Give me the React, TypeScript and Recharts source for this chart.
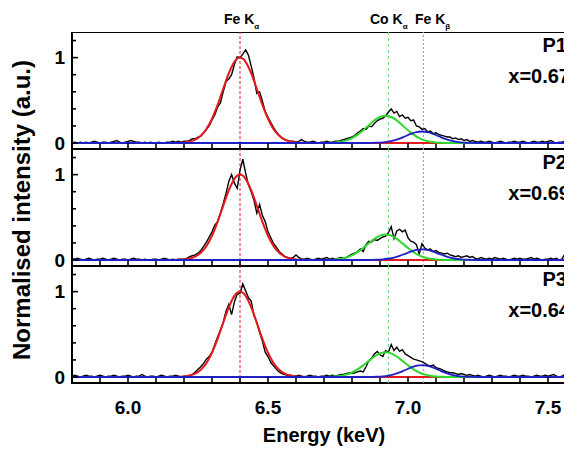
import { LineChart, Line, XAxis, YAxis, ReferenceLine, ReferenceArea } from 'recharts';

const FONT = '"Liberation Sans", Arial, Helvetica, sans-serif';

// measured spectra, one value per 0.01 keV channel from 5.80 to 7.60 keV
const E_START = 5.8;
const E_STEP = 0.01;

const p1Counts = [
  0.00, 0.01, 0.00, 0.01, 0.00, 0.01, 0.00, 0.01, 0.02, 0.01,
  0.00, 0.01, 0.01, 0.00, 0.01, 0.02, 0.03, 0.01, 0.00, 0.01,
  0.02, 0.03, 0.02, 0.01, 0.01, 0.00, 0.01, 0.00, 0.01, 0.00,
  0.00, 0.01, 0.00, 0.00, 0.01, 0.01, 0.02, 0.01, 0.02, 0.01,
  0.02, 0.02, 0.03, 0.05, 0.05, 0.07, 0.08, 0.12, 0.16, 0.20,
  0.27, 0.33, 0.42, 0.47, 0.60, 0.72, 0.75, 0.80, 0.92, 1.01,
  1.00, 1.04, 1.09, 1.03, 0.90, 0.76, 0.58, 0.60, 0.49, 0.37,
  0.30, 0.24, 0.18, 0.13, 0.09, 0.06, 0.04, 0.03, 0.02, 0.02,
  0.01, 0.02, 0.04, 0.02, 0.01, 0.01, 0.02, 0.01, 0.00, 0.01,
  0.01, 0.02, 0.01, 0.01, 0.02, 0.02, 0.03, 0.04, 0.05, 0.06,
  0.07, 0.09, 0.12, 0.14, 0.17, 0.16, 0.20, 0.19, 0.23, 0.26,
  0.28, 0.29, 0.32, 0.36, 0.40, 0.35, 0.37, 0.31, 0.33, 0.29,
  0.30, 0.26, 0.27, 0.20, 0.19, 0.16, 0.17, 0.13, 0.14, 0.11,
  0.12, 0.10, 0.09, 0.08, 0.07, 0.07, 0.05, 0.06, 0.04, 0.05,
  0.03, 0.04, 0.02, 0.03, 0.02, 0.01, 0.02, 0.01, 0.01, 0.02,
  0.01, 0.00, 0.01, 0.02, 0.01, 0.00, 0.01, 0.01, 0.02, 0.01,
  0.01, 0.02, 0.01, 0.00, 0.01, 0.02, 0.01, 0.01, 0.02, 0.01,
  0.02, 0.03, 0.01, 0.00, 0.01, 0.01, 0.02, 0.01, 0.00, 0.01,
  0.01,
];

const p2Counts = [
  0.02, 0.01, 0.02, 0.01, 0.00, 0.01, 0.02, 0.01, 0.00, 0.01,
  0.01, 0.02, 0.01, 0.00, 0.01, 0.02, 0.01, 0.00, 0.01, 0.01,
  0.00, 0.01, 0.02, 0.01, 0.01, 0.00, 0.01, 0.00, 0.00, 0.01,
  0.01, 0.00, 0.01, 0.02, 0.01, 0.00, 0.01, 0.00, 0.01, 0.01,
  0.01, 0.02, 0.04, 0.05, 0.06, 0.08, 0.11, 0.16, 0.21, 0.27,
  0.33, 0.41, 0.45, 0.55, 0.66, 0.78, 0.92, 1.00, 0.90, 0.84,
  1.05, 1.18, 1.02, 0.88, 0.80, 0.70, 0.55, 0.65, 0.52, 0.45,
  0.33, 0.26, 0.19, 0.15, 0.10, 0.07, 0.04, 0.03, 0.02, 0.03,
  0.06, 0.03, 0.01, 0.01, 0.02, 0.01, 0.00, 0.01, 0.02, 0.01,
  0.02, 0.03, 0.01, 0.02, 0.01, 0.02, 0.03, 0.02, 0.03, 0.05,
  0.07, 0.08, 0.10, 0.13, 0.10, 0.18, 0.22, 0.21, 0.24, 0.23,
  0.25, 0.27, 0.28, 0.32, 0.39, 0.25, 0.34, 0.36, 0.33, 0.35,
  0.26, 0.22, 0.21, 0.18, 0.07, 0.19, 0.14, 0.12, 0.13, 0.10,
  0.11, 0.09, 0.08, 0.07, 0.08, 0.06, 0.05, 0.04, 0.05, 0.03,
  0.04, 0.05, 0.03, 0.04, 0.02, 0.01, 0.03, 0.02, 0.01, 0.02,
  0.01, 0.03, 0.02, 0.01, 0.02, 0.01, 0.00, 0.01, 0.02, 0.01,
  0.02, 0.01, 0.01, 0.02, 0.03, 0.01, 0.02, 0.01, 0.00, 0.01,
  0.01, 0.02, 0.01, 0.02, 0.00, 0.01, 0.07, 0.02, 0.01, 0.01,
  0.01,
];

const p3Counts = [
  0.01, 0.02, 0.01, 0.00, 0.01, 0.02, 0.01, 0.01, 0.00, 0.01,
  0.02, 0.01, 0.00, 0.01, 0.01, 0.02, 0.01, 0.00, 0.01, 0.01,
  0.02, 0.01, 0.00, 0.01, 0.01, 0.03, 0.01, 0.00, 0.01, 0.01,
  0.00, 0.01, 0.02, 0.01, 0.00, 0.01, 0.01, 0.02, 0.01, 0.00,
  0.01, 0.01, 0.02, 0.03, 0.06, 0.09, 0.12, 0.16, 0.21, 0.24,
  0.29, 0.38, 0.47, 0.55, 0.64, 0.77, 0.85, 0.73, 0.88, 0.97,
  0.98, 1.09, 1.01, 0.93, 0.89, 0.72, 0.64, 0.52, 0.42, 0.29,
  0.24, 0.17, 0.13, 0.09, 0.06, 0.04, 0.03, 0.02, 0.02, 0.01,
  0.01, 0.02, 0.01, 0.00, 0.01, 0.02, 0.01, 0.01, 0.00, 0.01,
  0.01, 0.02, 0.01, 0.02, 0.01, 0.02, 0.03, 0.03, 0.04, 0.05,
  0.04, 0.05, 0.06, 0.07, 0.06, 0.12, 0.19, 0.22, 0.27, 0.30,
  0.26, 0.24, 0.31, 0.29, 0.38, 0.31, 0.35, 0.30, 0.32, 0.27,
  0.25, 0.23, 0.21, 0.20, 0.19, 0.18, 0.16, 0.14, 0.13, 0.14,
  0.11, 0.10, 0.09, 0.07, 0.06, 0.05, 0.05, 0.04, 0.03, 0.04,
  0.03, 0.02, 0.03, 0.02, 0.01, 0.02, 0.01, 0.00, 0.01, 0.02,
  0.01, 0.00, 0.01, 0.02, 0.01, 0.01, 0.00, 0.01, 0.02, 0.01,
  0.01, 0.02, 0.01, 0.01, 0.00, 0.01, 0.02, 0.01, 0.01, 0.02,
  0.01, 0.02, 0.03, 0.01, 0.00, 0.01, 0.03, 0.01, 0.01, 0.02,
  0.01,
];

// fitted peaks
const feKaFitEnergy = [
  5.8, 6.16, 6.18, 6.2, 6.22, 6.24, 6.26, 6.28, 6.3, 6.32, 6.34, 6.36, 6.38, 6.4,
  6.42, 6.44, 6.46, 6.48, 6.5, 6.52, 6.54, 6.56, 6.58, 6.6, 6.62, 6.64, 7.6,
];
const feKaFit = [
  0, 0.001, 0.002, 0.006, 0.017, 0.04, 0.085, 0.163, 0.284, 0.447, 0.635, 0.817, 0.951, 1.0,
  0.951, 0.817, 0.635, 0.447, 0.284, 0.163, 0.085, 0.04, 0.017, 0.006, 0.002, 0.001, 0,
];

const coKaFitEnergy = [
  5.8, 6.68, 6.7, 6.72, 6.74, 6.76, 6.78, 6.8, 6.82, 6.84, 6.86, 6.88, 6.9, 6.92,
  6.94, 6.96, 6.98, 7.0, 7.02, 7.04, 7.06, 7.08, 7.1, 7.12, 7.14, 7.16, 7.6,
];
const coKaFitP1 = [
  0, 0, 0.001, 0.003, 0.007, 0.015, 0.031, 0.058, 0.098, 0.15, 0.209, 0.265, 0.305, 0.32,
  0.305, 0.265, 0.209, 0.15, 0.098, 0.058, 0.031, 0.015, 0.007, 0.003, 0.001, 0, 0,
];
const coKaFitP2 = [
  0, 0, 0.001, 0.003, 0.007, 0.014, 0.029, 0.055, 0.092, 0.141, 0.196, 0.248, 0.286, 0.3,
  0.286, 0.248, 0.196, 0.141, 0.092, 0.055, 0.029, 0.014, 0.007, 0.003, 0.001, 0, 0,
];
const coKaFitP3 = [
  0, 0, 0.001, 0.003, 0.006, 0.014, 0.028, 0.053, 0.089, 0.136, 0.189, 0.24, 0.277, 0.29,
  0.277, 0.24, 0.189, 0.136, 0.089, 0.053, 0.028, 0.014, 0.006, 0.003, 0.001, 0, 0,
];

const feKbFitEnergy = [
  5.8, 6.85, 6.87, 6.89, 6.91, 6.93, 6.95, 6.97, 6.99, 7.01, 7.03, 7.05,
  7.07, 7.09, 7.11, 7.13, 7.15, 7.17, 7.19, 7.21, 7.23, 7.25, 7.6,
];
const feKbFitP1 = [
  0, 0, 0.001, 0.003, 0.007, 0.016, 0.031, 0.052, 0.079, 0.106, 0.127, 0.135,
  0.127, 0.106, 0.079, 0.052, 0.031, 0.016, 0.007, 0.003, 0.001, 0, 0,
];
const feKbFitP2 = [
  0, 0, 0.001, 0.003, 0.007, 0.015, 0.028, 0.048, 0.073, 0.098, 0.118, 0.125,
  0.118, 0.098, 0.073, 0.048, 0.028, 0.015, 0.007, 0.003, 0.001, 0, 0,
];
const feKbFitP3 = [
  0, 0, 0.001, 0.003, 0.007, 0.016, 0.032, 0.054, 0.082, 0.11, 0.132, 0.14,
  0.132, 0.11, 0.082, 0.054, 0.032, 0.016, 0.007, 0.003, 0.001, 0, 0,
];

const panelNames = ['P1', 'P2', 'P3'];
const panelCompositions = ['x=0.67', 'x=0.69', 'x=0.64'];

const energyTicks = [5.9, 6.0, 6.1, 6.2, 6.3, 6.4, 6.5, 6.6, 6.7, 6.8, 6.9, 7.0, 7.1, 7.2, 7.3, 7.4, 7.5];
const energyLabels = [6.0, 6.5, 7.0, 7.5];
const intensityTicks = [0, 0.2, 0.4, 0.6, 0.8, 1.0, 1.2];
const intensityLabels = [0, 1];

const FE_KA = 6.4;
const CO_KA = 6.93;
const FE_KB = 7.055;

const X_DOMAIN: [number, number] = [5.8, 7.6];
const Y_DOMAIN: [number, number] = [-0.07, 1.3];

const toPoints = (es: number[], vs: number[]) => es.map((e, i) => ({ e, v: vs[i] }));
const countPoints = (vs: number[]) => vs.map((v, i) => ({ e: +(E_START + i * E_STEP).toFixed(2), v }));

const panels = [
  { counts: p1Counts, coKa: coKaFitP1, feKb: feKbFitP1 },
  { counts: p2Counts, coKa: coKaFitP2, feKb: feKbFitP2 },
  { counts: p3Counts, coKa: coKaFitP3, feKb: feKbFitP3 },
];

const PANEL_H = 117;
const PANEL_TOPS = [32, 149, 266];

function EnergyTick(props: any) {
  const { x, y, payload, showLabel } = props;
  const v = payload.value;
  const major = energyLabels.some((l) => Math.abs(l - v) < 1e-6);
  return (
    <g>
      <line x1={x} x2={x} y1={y} y2={y - (major ? 6 : 5)} stroke="#000" strokeWidth={1.6} />
      {showLabel && major && (
        <text x={x} y={y + 31} textAnchor="middle" fontSize={19} fontWeight="bold" fontFamily={FONT} fill="#000">
          {v.toFixed(1)}
        </text>
      )}
    </g>
  );
}

function IntensityTick(props: any) {
  const { x, y, payload } = props;
  const v = payload.value;
  const major = intensityLabels.some((l) => Math.abs(l - v) < 1e-6);
  return (
    <g>
      <line x1={x} x2={x + (major ? 6 : 4)} y1={y} y2={y} stroke="#000" strokeWidth={1.6} />
      {major && (
        <text x={x - 7} y={y} dy="0.36em" textAnchor="end" fontSize={19} fontWeight="bold" fontFamily={FONT} fill="#000">
          {v}
        </text>
      )}
    </g>
  );
}

function Panel({ index }: { index: number }) {
  const p = panels[index];
  const last = index === panels.length - 1;
  const axisH = last ? 72 : 2;
  const padBottom = last ? 0 : 14;
  return (
    <div style={{ position: 'absolute', left: 0, top: PANEL_TOPS[index] }}>
      <LineChart width={580} height={PANEL_H + axisH + padBottom} margin={{ top: 0, right: 4, bottom: padBottom, left: 0 }}>
        <XAxis
          type="number"
          dataKey="e"
          domain={X_DOMAIN}
          allowDataOverflow
          ticks={energyTicks}
          interval={0}
          height={axisH}
          tickSize={0}
          tickMargin={0}
          axisLine={false}
          tickLine={false}
          tick={(t: any) => <EnergyTick {...t} showLabel={last} />}
          label={
            last
              ? {
                  value: 'Energy (keV)',
                  position: 'insideBottom',
                  offset: 13,
                  fill: '#000',
                  fontSize: 20,
                  fontWeight: 'bold',
                  fontFamily: FONT,
                }
              : undefined
          }
        />
        <YAxis
          type="number"
          domain={Y_DOMAIN}
          allowDataOverflow
          ticks={intensityTicks}
          interval={0}
          width={72}
          tickSize={0}
          tickMargin={0}
          axisLine={false}
          tickLine={false}
          tick={(t: any) => <IntensityTick {...t} />}
        />
        <ReferenceLine x={FE_KA} stroke="#e8202a" strokeWidth={1} strokeDasharray="3 2" />
        <ReferenceLine x={CO_KA} stroke="#6fd86f" strokeWidth={1} strokeDasharray="3 3" />
        <ReferenceLine x={FE_KB} stroke="#9c9cf2" strokeWidth={1.2} strokeDasharray="2 2" />
        <Line data={countPoints(p.counts)} dataKey="v" type="linear" stroke="#000" strokeWidth={1.4} dot={false} isAnimationActive={false} />
        <Line data={toPoints(feKaFitEnergy, feKaFit)} dataKey="v" type="monotone" stroke="#e3191c" strokeWidth={2} dot={false} isAnimationActive={false} />
        <Line data={toPoints(coKaFitEnergy, p.coKa)} dataKey="v" type="monotone" stroke="#2fd82f" strokeWidth={2} dot={false} isAnimationActive={false} />
        <Line data={toPoints(feKbFitEnergy, p.feKb)} dataKey="v" type="monotone" stroke="#1f1fc8" strokeWidth={1.8} dot={false} isAnimationActive={false} />
        <ReferenceArea x1={X_DOMAIN[0]} x2={X_DOMAIN[1]} y1={Y_DOMAIN[0]} y2={Y_DOMAIN[1]} fill="none" stroke="#000" strokeWidth={2} />
      </LineChart>
    </div>
  );
}

export default function App() {
  const txt = { fontFamily: FONT, fontWeight: 'bold' as const, fill: '#000' };
  return (
    <div style={{ position: 'relative', width: 572, height: 455, margin: -8, overflow: 'hidden', background: '#fff' }}>
      <div style={{ position: 'absolute', left: 0, top: 18, width: 2, height: 378, background: '#c4c4c4' }} />
      {panels.map((_, i) => (
        <Panel key={i} index={i} />
      ))}
      <svg width={572} height={455} style={{ position: 'absolute', left: 0, top: 0, pointerEvents: 'none' }}>
        <text x={224} y={24} fontSize={14} {...txt}>
          Fe K<tspan fontSize={8} dy={5}>α</tspan>
        </text>
        <text x={370} y={24} fontSize={14} {...txt}>
          Co K<tspan fontSize={8} dy={5}>α</tspan>
        </text>
        <text x={415} y={24} fontSize={14} {...txt}>
          Fe K<tspan fontSize={8} dy={5}>β</tspan>
        </text>
        <text x={30} y={210} transform="rotate(-90 30 210)" textAnchor="middle" fontSize={24} {...txt}>
          Normalised intensity (a.u.)
        </text>
        {PANEL_TOPS.map((t, i) => (
          <g key={i}>
            <text x={567} y={t + 20} textAnchor="end" fontSize={20} {...txt}>
              {panelNames[i]}
            </text>
            <text x={570} y={t + 51} textAnchor="end" fontSize={20} {...txt}>
              {panelCompositions[i]}
            </text>
          </g>
        ))}
      </svg>
    </div>
  );
}
